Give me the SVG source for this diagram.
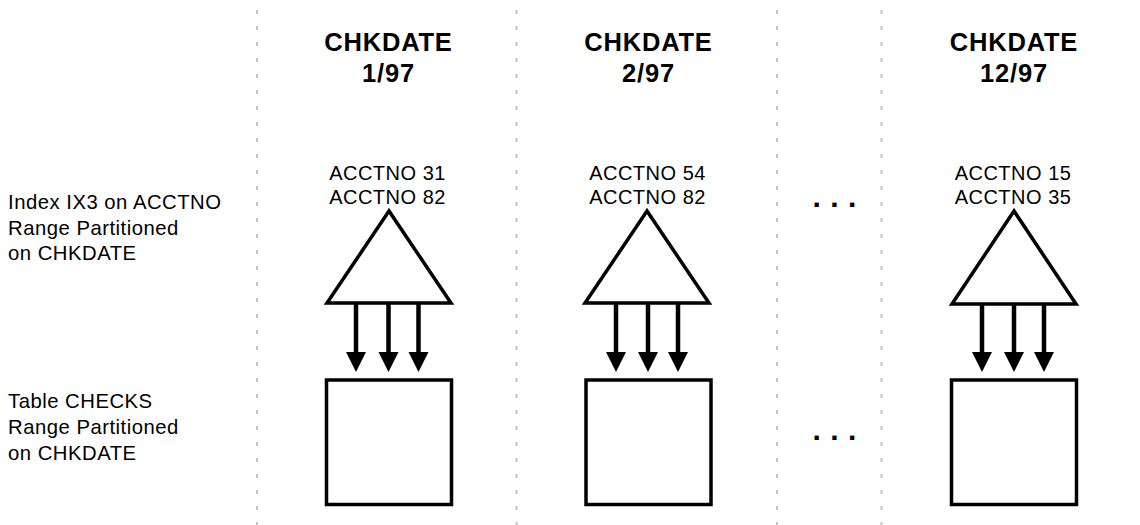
<svg xmlns="http://www.w3.org/2000/svg" width="1140" height="525" viewBox="0 0 1140 525">
<style>
.sep{stroke:#c4c4c4;stroke-width:2;stroke-dasharray:4 12;fill:none}
.hdr{font-family:"Liberation Sans",Arial,sans-serif;font-weight:bold;font-size:25.5px;fill:#000;text-anchor:middle;letter-spacing:0.8px}
.key{font-family:"Liberation Sans",Arial,sans-serif;font-size:20px;fill:#000;text-anchor:middle;letter-spacing:0.5px}
.lbl{font-family:"Liberation Sans",Arial,sans-serif;font-size:20.3px;fill:#000;letter-spacing:0.5px}
.tri,.box{fill:#fff;stroke:#000;stroke-width:3.5}
.arr{stroke:#000;stroke-width:4.5;fill:none}
.head{fill:#000}
.dots{font-family:"Liberation Sans",Arial,sans-serif;font-weight:bold;font-size:30px;fill:#000;letter-spacing:9.4px}
</style>
<g id="separators">
<line class="sep" x1="257" y1="10" x2="257" y2="525"/>
<line class="sep" x1="516.5" y1="10" x2="516.5" y2="525"/>
<line class="sep" x1="777" y1="10" x2="777" y2="525"/>
<line class="sep" x1="881.5" y1="10" x2="881.5" y2="525"/>
</g>
<g id="row-labels">
<text class="lbl" x="8" y="209">Index IX3 on ACCTNO</text>
<text class="lbl" x="8" y="235">Range Partitioned</text>
<text class="lbl" x="8" y="260">on CHKDATE</text>
<text class="lbl" x="8" y="408">Table CHECKS</text>
<text class="lbl" x="8" y="434">Range Partitioned</text>
<text class="lbl" x="8" y="460">on CHKDATE</text>
</g>
<g id="col1">
<text class="hdr" x="388.5" y="51">CHKDATE</text>
<text class="hdr" x="388.5" y="82">1/97</text>
<text class="key" x="387.5" y="180">ACCTNO 31</text>
<text class="key" x="387.5" y="204">ACCTNO 82</text>
<polygon class="tri" points="389,211 327,303 451,303"/>
<rect class="box" x="326.5" y="380" width="125" height="124.5"/>
</g>
<g id="col2">
<text class="hdr" x="648.5" y="51">CHKDATE</text>
<text class="hdr" x="648.5" y="82">2/97</text>
<text class="key" x="647.5" y="180">ACCTNO 54</text>
<text class="key" x="647.5" y="204">ACCTNO 82</text>
<polygon class="tri" points="647,211 585,303 709,303"/>
<rect class="box" x="586" y="380" width="125" height="124.5"/>
</g>
<g id="ellipsis">
<text class="dots" x="812.5" y="206.5">...</text>
<text class="dots" x="812.5" y="439.5">...</text>
</g>
<g id="col3">
<text class="hdr" x="1014" y="51">CHKDATE</text>
<text class="hdr" x="1014" y="82">12/97</text>
<text class="key" x="1013" y="180">ACCTNO 15</text>
<text class="key" x="1013" y="204">ACCTNO 35</text>
<polygon class="tri" points="1014,211 952,304 1076,304"/>
<rect class="box" x="951.5" y="380" width="125" height="124.5"/>
</g>
<g id="connectors">
<path class="arr" d="M356,304 V354"/><path class="head" d="M346,352 H366 L356,372 Z"/>
<path class="arr" d="M388.5,304 V354"/><path class="head" d="M378.5,352 H398.5 L388.5,372 Z"/>
<path class="arr" d="M418.5,304 V354"/><path class="head" d="M408.5,352 H428.5 L418.5,372 Z"/>
<path class="arr" d="M616,304 V354"/><path class="head" d="M606,352 H626 L616,372 Z"/>
<path class="arr" d="M648,304 V354"/><path class="head" d="M638,352 H658 L648,372 Z"/>
<path class="arr" d="M678,304 V354"/><path class="head" d="M668,352 H688 L678,372 Z"/>
<path class="arr" d="M982,305 V354"/><path class="head" d="M972,352 H992 L982,372 Z"/>
<path class="arr" d="M1014,305 V354"/><path class="head" d="M1004,352 H1024 L1014,372 Z"/>
<path class="arr" d="M1044,305 V354"/><path class="head" d="M1034,352 H1054 L1044,372 Z"/>
</g>
</svg>
